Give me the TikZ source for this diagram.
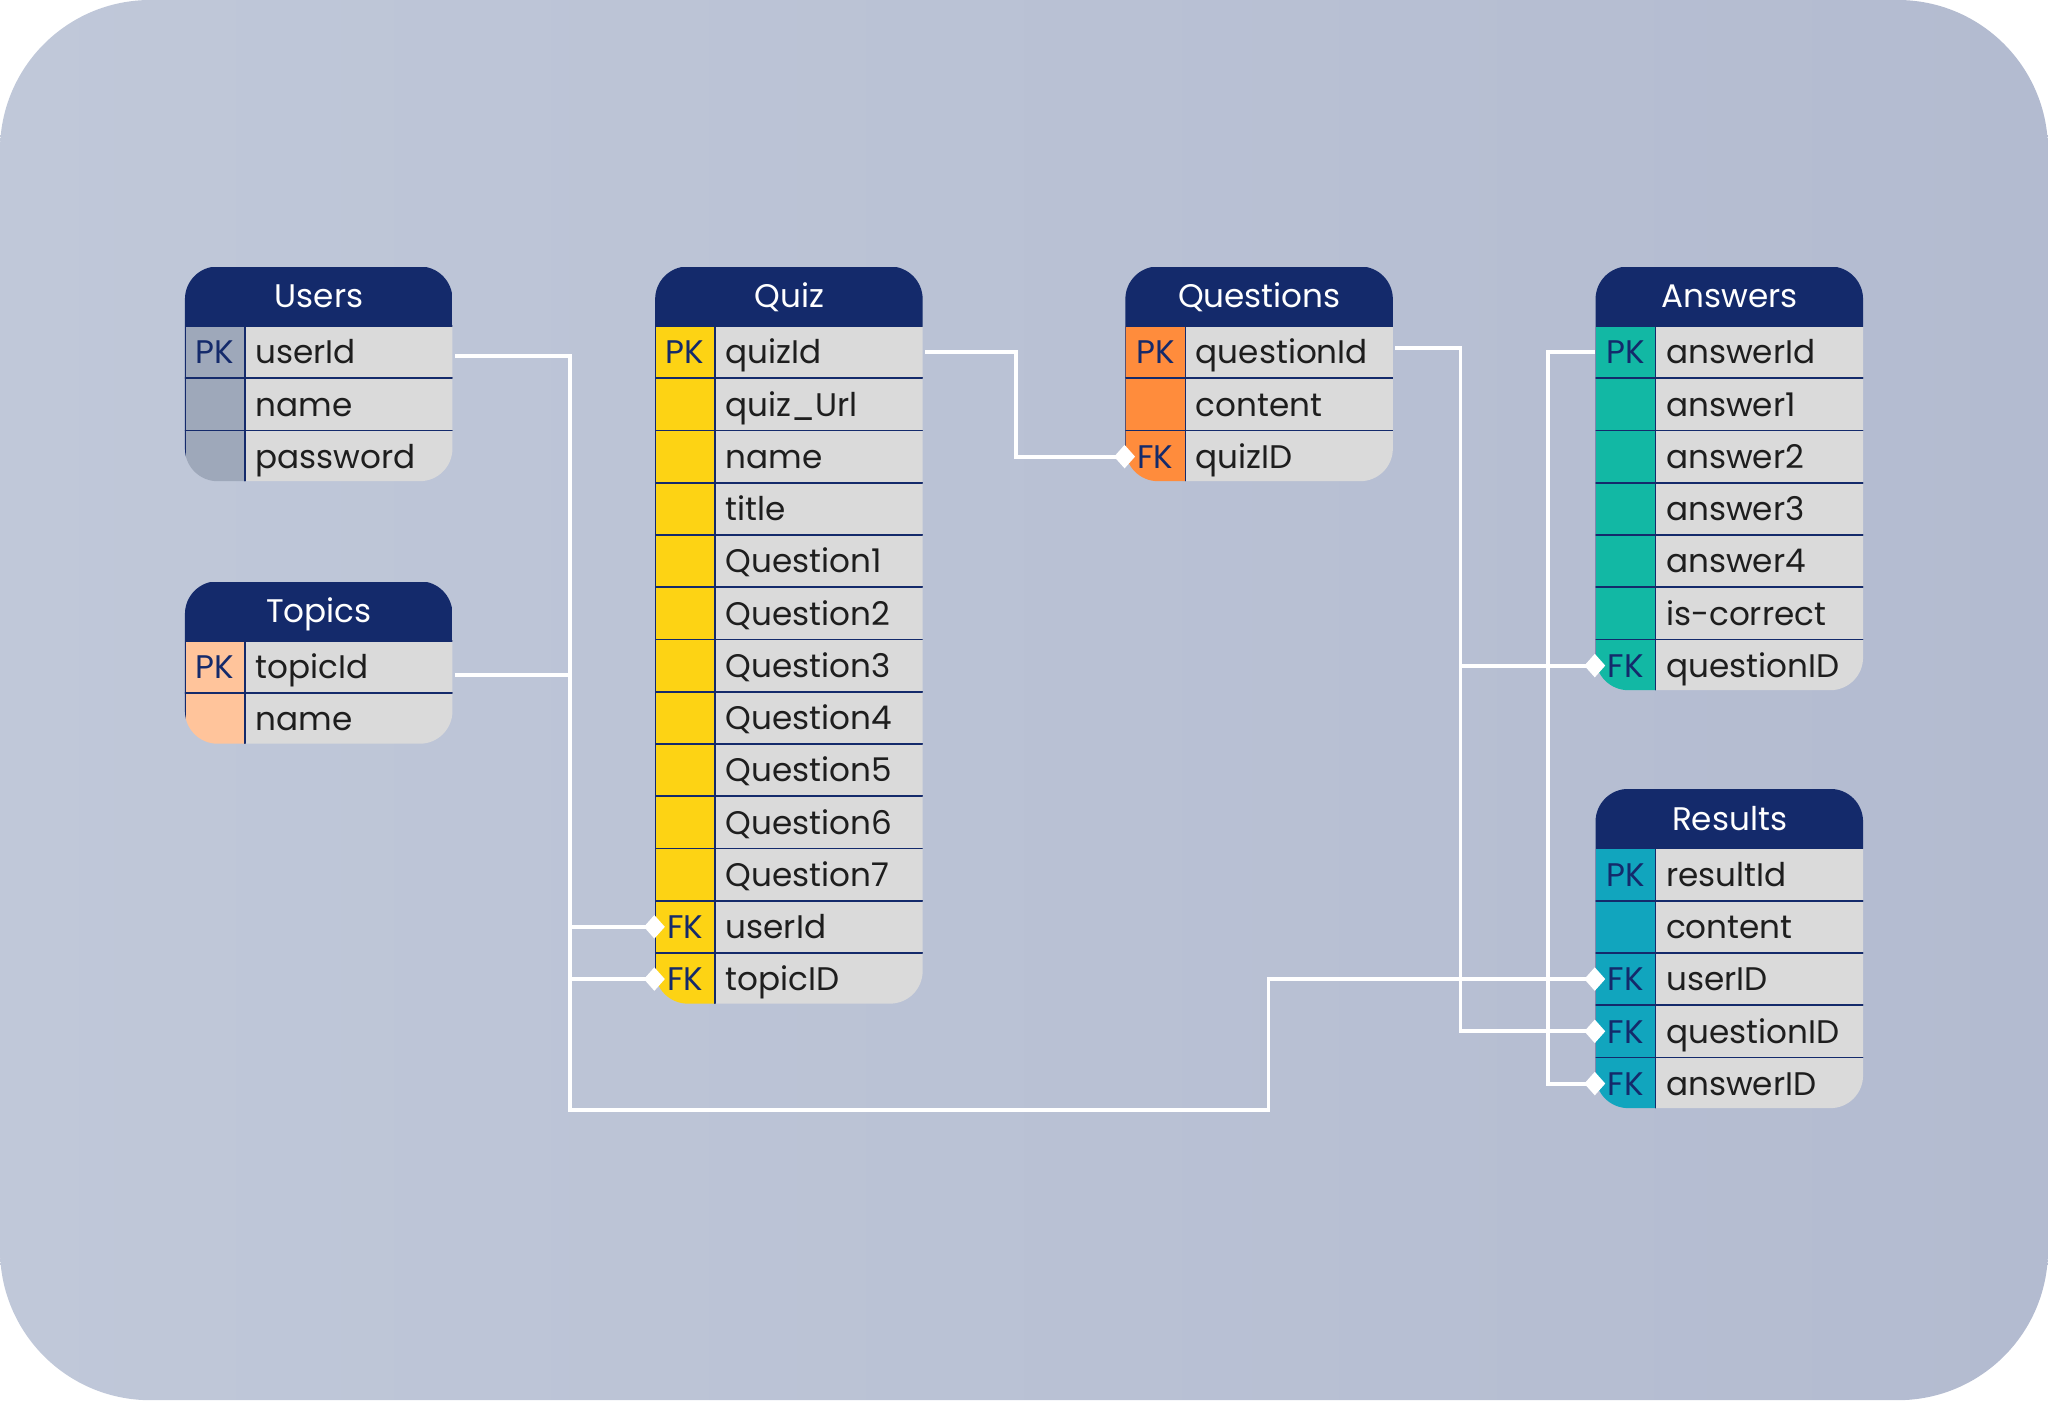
\documentclass[tikz,border=0pt]{standalone}
\usepackage{fontspec}
\setmainfont{Poppins}
\usepackage{xcolor}
\usetikzlibrary{arrows.meta}
\definecolor{navy}{HTML}{142A6B}
\definecolor{cellgray}{HTML}{DADADA}
\definecolor{ink}{HTML}{1E1E1E}
\definecolor{userkey}{HTML}{9EA8BA}
\definecolor{topickey}{HTML}{FFC49B}
\definecolor{quizkey}{HTML}{FDD314}
\definecolor{questionkey}{HTML}{FF8C3C}
\definecolor{answerkey}{HTML}{12B8A4}
\definecolor{resultkey}{HTML}{11A5BE}
\definecolor{bgleft}{HTML}{C0C8D9}
\definecolor{bgright}{HTML}{B3BBD0}

\begin{document}
\begin{tikzpicture}[x=1pt,y=-1pt,
  every node/.style={anchor=north west, inner sep=0pt, text height=18pt, text depth=0pt, font=\fontsize{25}{30}\selectfont},
  hdrcell/.style={fill=navy, text=white, minimum width=206pt, minimum height=45pt},
  keycell/.style={draw=navy, line width=1.2pt, minimum width=46pt, minimum height=40pt, text=navy},
  fieldcell/.style={draw=navy, line width=1.2pt, fill=cellgray, minimum height=40pt, text width=144pt, inner xsep=8pt, align=left, text=ink},
  link/.style={draw=white, line width=3pt},
  fk/.style={-{Diamond[length=16pt,width=18pt]}, shorten >=-8pt}]
  \shade[left color=bgleft, right color=bgright, rounded corners=115] (0,0) rectangle (1568,1072);

  % Users
  \begin{scope}
    \clip[rounded corners=25] (141.6,204) rectangle (346.4,368.4);
    \node[hdrcell] (users) at (141,204) {Users};
    \node[keycell,fill=userkey] (useridk) at (141,249) {PK};
    \node[fieldcell] (userid) at (187,249) {userId};
    \node[keycell,fill=userkey] (usernamek) at (141,289) {};
    \node[fieldcell] (username) at (187,289) {name};
    \node[keycell,fill=userkey] (passwordk) at (141,329) {};
    \node[fieldcell] (password) at (187,329) {password};
  \end{scope}

  % Topics
  \begin{scope}
    \clip[rounded corners=25] (141.6,445) rectangle (346.4,569.4);
    \node[hdrcell] (topics) at (141,445) {Topics};
    \node[keycell,fill=topickey] (topicidk) at (141,490) {PK};
    \node[fieldcell] (topicid) at (187,490) {topicId};
    \node[keycell,fill=topickey] (topicnamek) at (141,530) {};
    \node[fieldcell] (topicname) at (187,530) {name};
  \end{scope}

  % Quiz
  \begin{scope}
    \clip[rounded corners=25] (501.6,204) rectangle (706.4,768.4);
    \node[hdrcell] (quiz) at (501,204) {Quiz};
    \node[keycell,fill=quizkey] (quizidk) at (501,249) {PK};
    \node[fieldcell] (quizid) at (547,249) {quizId};
    \node[keycell,fill=quizkey] (quizurlk) at (501,289) {};
    \node[fieldcell] (quizurl) at (547,289) {quiz\_Url};
    \node[keycell,fill=quizkey] (quiznamek) at (501,329) {};
    \node[fieldcell] (quizname) at (547,329) {name};
    \node[keycell,fill=quizkey] (titlek) at (501,369) {};
    \node[fieldcell] (title) at (547,369) {title};
    \node[keycell,fill=quizkey] (q1k) at (501,409) {};
    \node[fieldcell] (q1) at (547,409) {Question1};
    \node[keycell,fill=quizkey] (q2k) at (501,449) {};
    \node[fieldcell] (q2) at (547,449) {Question2};
    \node[keycell,fill=quizkey] (q3k) at (501,489) {};
    \node[fieldcell] (q3) at (547,489) {Question3};
    \node[keycell,fill=quizkey] (q4k) at (501,529) {};
    \node[fieldcell] (q4) at (547,529) {Question4};
    \node[keycell,fill=quizkey] (q5k) at (501,569) {};
    \node[fieldcell] (q5) at (547,569) {Question5};
    \node[keycell,fill=quizkey] (q6k) at (501,609) {};
    \node[fieldcell] (q6) at (547,609) {Question6};
    \node[keycell,fill=quizkey] (q7k) at (501,649) {};
    \node[fieldcell] (q7) at (547,649) {Question7};
    \node[keycell,fill=quizkey] (quizuserk) at (501,689) {FK};
    \node[fieldcell] (quizuser) at (547,689) {userId};
    \node[keycell,fill=quizkey] (quiztopick) at (501,729) {FK};
    \node[fieldcell] (quiztopic) at (547,729) {topicID};
  \end{scope}

  % Questions
  \begin{scope}
    \clip[rounded corners=25] (861.6,204) rectangle (1066.4,368.4);
    \node[hdrcell] (questions) at (861,204) {Questions};
    \node[keycell,fill=questionkey] (questionidk) at (861,249) {PK};
    \node[fieldcell] (questionid) at (907,249) {questionId};
    \node[keycell,fill=questionkey] (contentk) at (861,289) {};
    \node[fieldcell] (content) at (907,289) {content};
    \node[keycell,fill=questionkey] (qquizk) at (861,329) {FK};
    \node[fieldcell] (qquiz) at (907,329) {quizID};
  \end{scope}

  % Answers
  \begin{scope}
    \clip[rounded corners=25] (1221.6,204) rectangle (1426.4,528.4);
    \node[hdrcell] (answers) at (1221,204) {Answers};
    \node[keycell,fill=answerkey] (answeridk) at (1221,249) {PK};
    \node[fieldcell] (answerid) at (1267,249) {answerId};
    \node[keycell,fill=answerkey] (a1k) at (1221,289) {};
    \node[fieldcell] (a1) at (1267,289) {answer1};
    \node[keycell,fill=answerkey] (a2k) at (1221,329) {};
    \node[fieldcell] (a2) at (1267,329) {answer2};
    \node[keycell,fill=answerkey] (a3k) at (1221,369) {};
    \node[fieldcell] (a3) at (1267,369) {answer3};
    \node[keycell,fill=answerkey] (a4k) at (1221,409) {};
    \node[fieldcell] (a4) at (1267,409) {answer4};
    \node[keycell,fill=answerkey] (correctk) at (1221,449) {};
    \node[fieldcell] (correct) at (1267,449) {is-correct};
    \node[keycell,fill=answerkey] (aquestionk) at (1221,489) {FK};
    \node[fieldcell] (aquestion) at (1267,489) {questionID};
  \end{scope}

  % Results
  \begin{scope}
    \clip[rounded corners=25] (1221.6,604) rectangle (1426.4,848.4);
    \node[hdrcell] (results) at (1221,604) {Results};
    \node[keycell,fill=resultkey] (resultidk) at (1221,649) {PK};
    \node[fieldcell] (resultid) at (1267,649) {resultId};
    \node[keycell,fill=resultkey] (rcontentk) at (1221,689) {};
    \node[fieldcell] (rcontent) at (1267,689) {content};
    \node[keycell,fill=resultkey] (ruserk) at (1221,729) {FK};
    \node[fieldcell] (ruser) at (1267,729) {userID};
    \node[keycell,fill=resultkey] (rquestionk) at (1221,769) {FK};
    \node[fieldcell] (rquestion) at (1267,769) {questionID};
    \node[keycell,fill=resultkey] (ranswerk) at (1221,809) {FK};
    \node[fieldcell] (ranswer) at (1267,809) {answerID};
  \end{scope}

  % relations
  \draw[link,fk] ([yshift=-3pt]userid.east) -- ++(88,0) |- (quizuserk.west);
  \draw[link,fk] ([yshift=-3pt]userid.east) -- ++(88,0) |- ++(535,577) |- (ruserk.west);
  \draw[link,fk] ([yshift=-6pt]topicid.east) -- ++(88,0) |- (quiztopick.west);
  \draw[link,fk] (quizid.east) -- ++(70,0) |- (qquizk.west);
  \draw[link,fk] ([yshift=3pt]questionid.east) -- ++(50,0) |- (aquestionk.west);
  \draw[link,fk] ([yshift=3pt]questionid.east) -- ++(50,0) |- (rquestionk.west);
  \draw[link,fk] (answeridk.west) -- ++(-36,0) |- (ranswerk.west);
\end{tikzpicture}
\end{document}
